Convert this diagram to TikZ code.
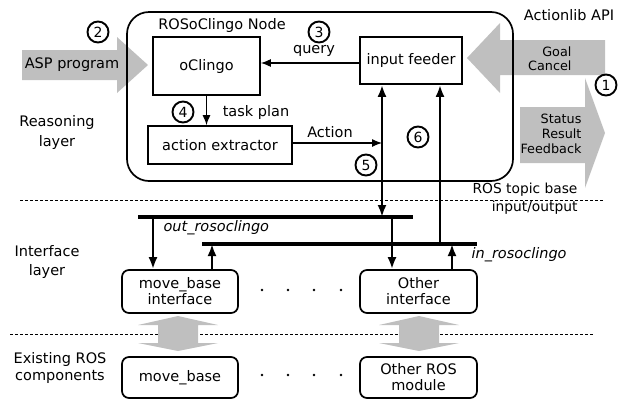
\documentclass[tikz,border=0pt]{standalone}
\usepackage{fontspec}
\setmainfont{DejaVu Sans}
\usetikzlibrary{arrows.meta}
\begin{document}
\begin{tikzpicture}[x=1pt,y=-1pt,
  every node/.style={font=\fontsize{14.5}{16}\selectfont},
  box/.style={draw,line width=1.7pt,inner sep=0pt,align=center},
  rbox/.style={box,rounded corners=7pt},
  num/.style={circle,draw,fill=white,line width=1.9pt,minimum size=21pt,inner sep=0pt,font=\fontsize{14}{14}\selectfont},
  arr/.style={line width=1.2pt,-{Latex[length=10pt,width=8pt]}},
  tarr/.style={line width=2.6pt,-{Latex[length=12pt,width=9pt]}},
  tdarr/.style={line width=2.6pt,{Latex[length=12pt,width=9pt]}-{Latex[length=12pt,width=9pt]}},
  bus/.style={line width=3.2pt},
  garrow/.style={fill=black!25,draw=none},
  sep/.style={dash pattern=on 3pt off 2pt,line width=0.9pt},
  dotm/.style={circle,fill,inner sep=0pt,minimum size=2.8pt}
]
\useasboundingbox (0,0) rectangle (623,408);

% separators
\draw[sep] (20,200) -- (603,200);
\draw[sep] (10,334) -- (593,334);

% gray arrows
\fill[garrow] (22,50) -- (117,50) -- (117,37) -- (148,65) -- (117,93) -- (117,80) -- (22,80) -- cycle;
\fill[garrow] (605,40) -- (500,40) -- (500,23) -- (467,58) -- (500,93) -- (500,75) -- (605,75) -- cycle;
\fill[garrow] (520,107) -- (585,107) -- (585,78) -- (605,133) -- (585,188) -- (585,163) -- (520,163) -- cycle;
\foreach \c in {178,419}{
  \fill[garrow] (\c,316) -- (\c+40,325) -- (\c+20,325) -- (\c+20,343) -- (\c+40,343) -- (\c,351)
     -- (\c-40,343) -- (\c-20,343) -- (\c-20,325) -- (\c-40,325) -- cycle;
}

% main node
\node[box,rounded corners=22pt,minimum width=386pt,minimum height=169pt] (rosnode) at (320,96.5) {};
\node (title) at (222,25) {ROSoClingo Node};
\node[box,minimum width=107pt,minimum height=58pt] (oclingo) at (206.5,66) {oClingo};
\node[box,minimum width=102pt,minimum height=47pt] (feeder) at (411,60.5) {input feeder};
\node[box,minimum width=144pt,minimum height=38pt] (extractor) at (220,145) {action extractor};

% interface / ROS components
\node[rbox,minimum width=116pt,minimum height=43pt] (mbi) at (180,291.5) {move\_base\\interface};
\node[rbox,minimum width=117pt,minimum height=43pt] (oi) at (418.5,291.5) {Other\\interface};
\node[rbox,minimum width=116pt,minimum height=41pt] (mb) at (180,377.5) {move\_base};
\node[rbox,minimum width=117pt,minimum height=41pt] (orm) at (418.5,377.5) {Other ROS\\module};

% dots
\foreach \x in {262,288,314,341}{
  \node[dotm] at (\x,290) {};
  \node[dotm] at (\x,375) {};
}

% helper coordinates
\coordinate (q) at (0,63);
\coordinate (c5) at (382,0);
\coordinate (c6) at (440,0);
\coordinate (a1) at (153,0);
\coordinate (a2) at (212,0);
\coordinate (a3) at (392,0);
\coordinate (a4) at (452,0);
\coordinate (outL) at (138,217);
\coordinate (outR) at (413,217);
\coordinate (inL) at (202,244);
\coordinate (inR) at (477,244);

% buses
\draw[bus] (outL) -- (outR);
\draw[bus] (inL) -- (inR);

% connectors
\draw[arr] (feeder.west |- q) -- (oclingo.east |- q);
\draw[arr] (oclingo.south) -- (extractor.north -| oclingo.south);
\draw[arr] (extractor.east |- 0,143) -- (c5 |- 0,143);
\draw[tdarr] (feeder.south -| c5) -- (outL -| c5);
\draw[tarr] (inL -| c6) -- (feeder.south -| c6);
\draw[tarr] (outL -| a1) -- (mbi.north -| a1);
\draw[tarr] (mbi.north -| a2) -- (inL -| a2);
\draw[tarr] (outL -| a3) -- (oi.north -| a3);
\draw[tarr] (oi.north -| a4) -- (inL -| a4);

% labels
\node (asp) at (72,65) {ASP program};
\node (ql) at (314,51) {query};
\node (tpl) at (256,112) {task plan};
\node (actl) at (330,132) {Action};
\node[align=right,anchor=east,font=\fontsize{12.8}{14}\selectfont] (goal) at (575,59) {Goal\\Cancel};
\node[align=right,anchor=east,font=\fontsize{12.8}{15}\selectfont] (status) at (585,134) {Status\\Result\\Feedback};
\node (api) at (569,15) {Actionlib API};
\node[align=right,anchor=east,font=\fontsize{13.8}{18}\selectfont] (topic) at (581,199) {ROS topic base\\input/output};
\node[anchor=west,font=\fontsize{14.5}{16}\selectfont\itshape] (outl) at (160,228) {out\_rosoclingo};
\node[anchor=west,font=\fontsize{14.5}{16}\selectfont\itshape] (inl) at (468,255) {in\_rosoclingo};
\node[align=center,font=\fontsize{14.5}{20}\selectfont] (reas) at (57,132) {Reasoning\\layer};
\node[align=center,font=\fontsize{14.5}{19}\selectfont] (intf) at (47,262) {Interface\\layer};
\node[align=center,font=\fontsize{14.5}{17}\selectfont] (exist) at (60,368) {Existing ROS\\components};

% numbers
\node[num] (n1) at (606,85) {1};
\node[num] (n2) at (98,32) {2};
\node[num] (n3) at (319,32) {3};
\node[num] (n4) at (183,112) {4};
\node[num] (n5) at (366,165) {5};
\node[num] (n6) at (418,137) {6};
\end{tikzpicture}
\end{document}
